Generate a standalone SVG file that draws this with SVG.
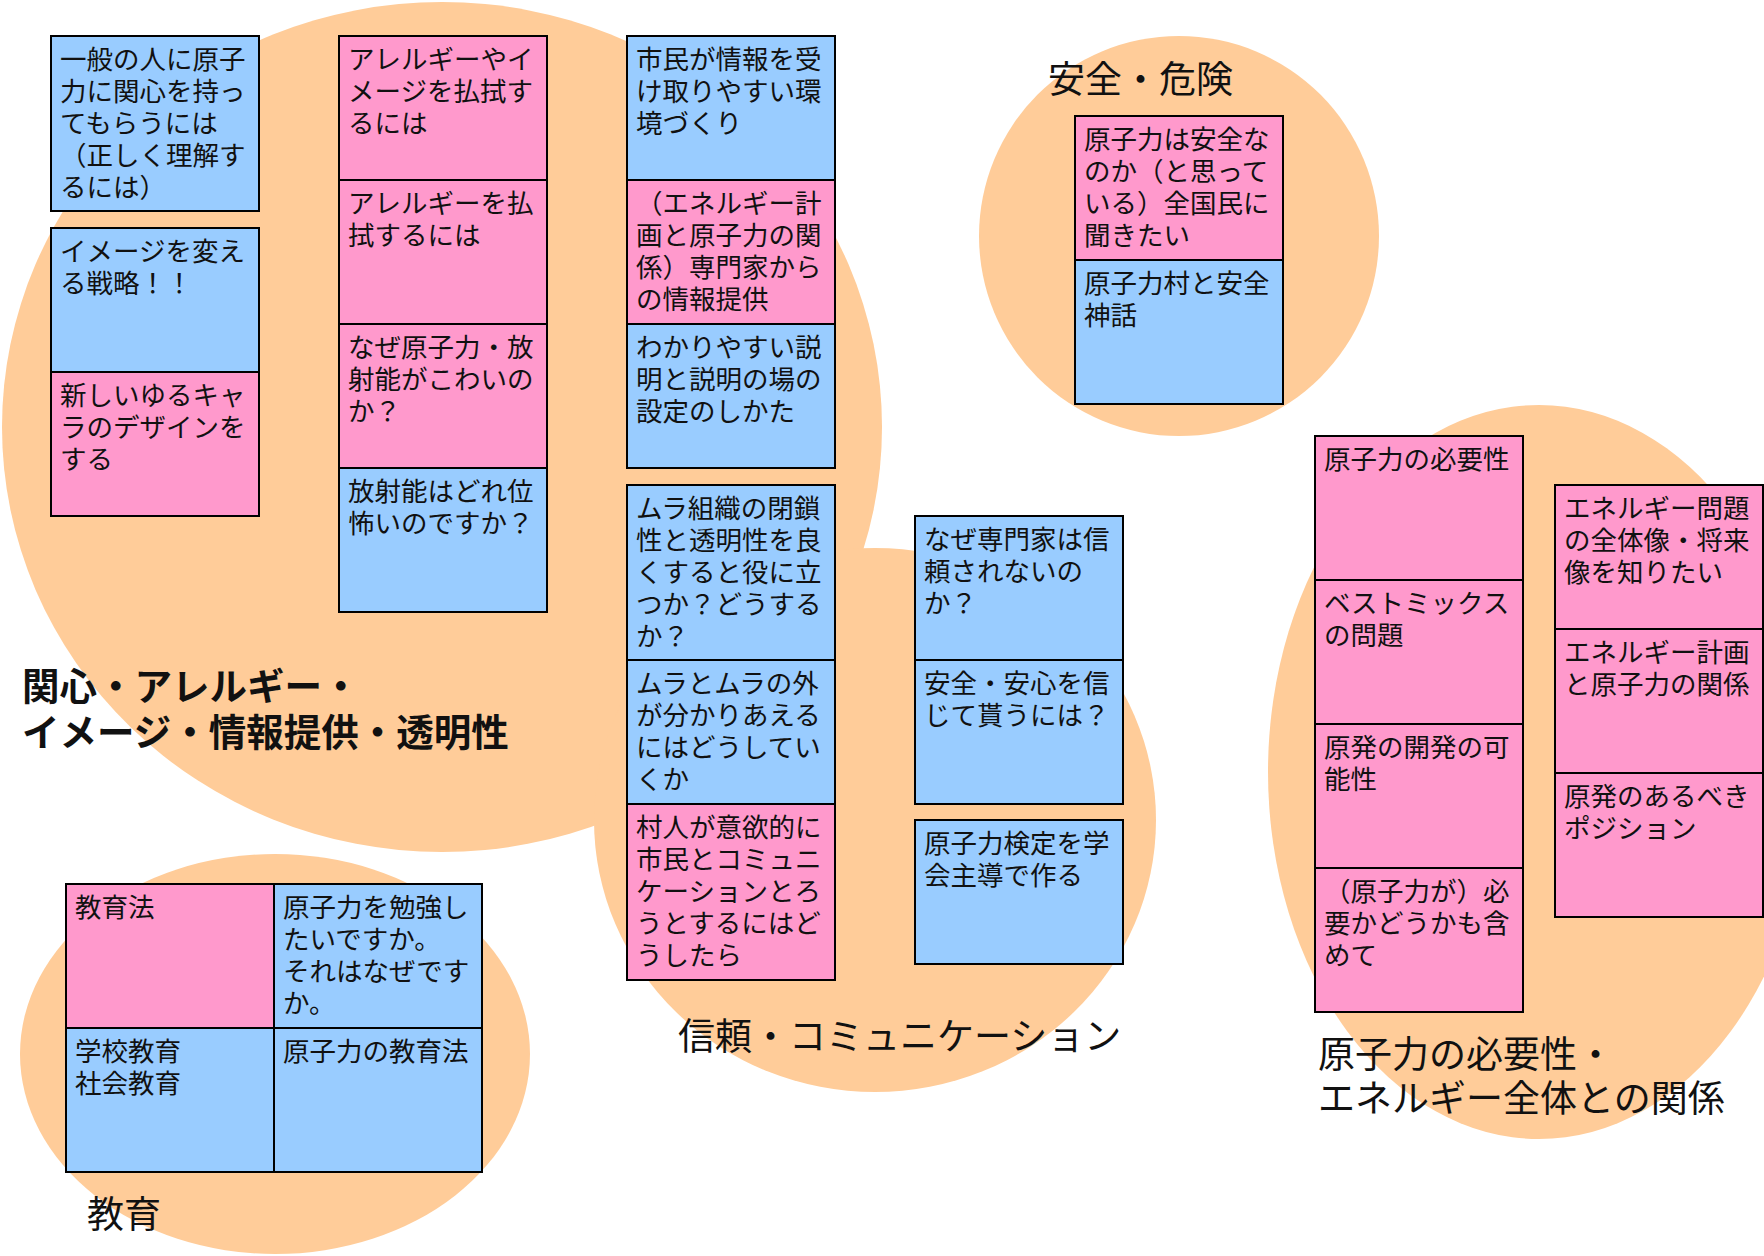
<svg xmlns="http://www.w3.org/2000/svg" width="1764" height="1256" viewBox="0 0 1764 1256">
<style>
.blob{fill:#FFCC99}
.b{fill:#99CCFF;stroke:#000;stroke-width:2}
.p{fill:#FF99CC;stroke:#000;stroke-width:2}
.t{font-family:"Noto Sans CJK JP","Noto Sans",sans-serif;font-size:26.5px;fill:#111}
.h{font-family:"Noto Sans CJK JP","Noto Sans",sans-serif;font-size:37px;fill:#111}
.hb{font-family:"Noto Sans CJK JP","Noto Sans",sans-serif;font-size:37.5px;font-weight:bold;fill:#111}
</style>
<rect width="1764" height="1256" fill="#fff"/>
<g id="blobs">
<ellipse class="blob" cx="442" cy="427" rx="440" ry="425"/>
<ellipse class="blob" cx="875" cy="820" rx="281" ry="272"/>
<circle class="blob" cx="1179" cy="236" r="200"/>
<ellipse class="blob" cx="275" cy="1054" rx="255" ry="200"/>
<ellipse class="blob" cx="1539" cy="772" rx="271" ry="367"/>
</g>
<g id="labels">
<text class="hb" x="22" y="700">関心・アレルギー・</text>
<text class="hb" x="22" y="746">イメージ・情報提供・透明性</text>
<text class="h" x="1048" y="93">安全・危険</text>
<text class="h" x="678" y="1050">信頼・コミュニケーション</text>
<text class="h" x="1318" y="1068">原子力の必要性・</text>
<text class="h" x="1318" y="1112">エネルギー全体との関係</text>
<text class="h" x="87" y="1228">教育</text>
</g>
<g id="connectors"/>
<g id="a1"><rect class="b" x="51" y="36" width="208" height="175"/><text class="t"><tspan x="60" y="69">一般の人に原子</tspan><tspan x="60" y="101">力に関心を持っ</tspan><tspan x="60" y="133">てもらうには</tspan><tspan x="60" y="165">（正しく理解す</tspan><tspan x="60" y="197">るには）</tspan></text></g>
<g id="a2"><rect class="b" x="51" y="228" width="208" height="144"/><text class="t"><tspan x="60" y="261">イメージを変え</tspan><tspan x="60" y="293">る戦略！！</tspan></text></g>
<g id="a3"><rect class="p" x="51" y="372" width="208" height="144"/><text class="t"><tspan x="60" y="405">新しいゆるキャ</tspan><tspan x="60" y="437">ラのデザインを</tspan><tspan x="60" y="469">する</tspan></text></g>
<g id="b1"><rect class="p" x="339" y="36" width="208" height="144"/><text class="t"><tspan x="348" y="69">アレルギーやイ</tspan><tspan x="348" y="101">メージを払拭す</tspan><tspan x="348" y="133">るには</tspan></text></g>
<g id="b2"><rect class="p" x="339" y="180" width="208" height="144"/><text class="t"><tspan x="348" y="213">アレルギーを払</tspan><tspan x="348" y="245">拭するには</tspan></text></g>
<g id="b3"><rect class="p" x="339" y="324" width="208" height="144"/><text class="t"><tspan x="348" y="357">なぜ原子力・放</tspan><tspan x="348" y="389">射能がこわいの</tspan><tspan x="348" y="421">か？</tspan></text></g>
<g id="b4"><rect class="b" x="339" y="468" width="208" height="144"/><text class="t"><tspan x="348" y="501">放射能はどれ位</tspan><tspan x="348" y="533">怖いのですか？</tspan></text></g>
<g id="c1"><rect class="b" x="627" y="36" width="208" height="144"/><text class="t"><tspan x="636" y="69">市民が情報を受</tspan><tspan x="636" y="101">け取りやすい環</tspan><tspan x="636" y="133">境づくり</tspan></text></g>
<g id="c2"><rect class="p" x="627" y="180" width="208" height="144"/><text class="t"><tspan x="636" y="213">（エネルギー計</tspan><tspan x="636" y="245">画と原子力の関</tspan><tspan x="636" y="277">係）専門家から</tspan><tspan x="636" y="309">の情報提供</tspan></text></g>
<g id="c3"><rect class="b" x="627" y="324" width="208" height="144"/><text class="t"><tspan x="636" y="357">わかりやすい説</tspan><tspan x="636" y="389">明と説明の場の</tspan><tspan x="636" y="421">設定のしかた</tspan></text></g>
<g id="c4"><rect class="b" x="627" y="485" width="208" height="175"/><text class="t"><tspan x="636" y="518">ムラ組織の閉鎖</tspan><tspan x="636" y="550">性と透明性を良</tspan><tspan x="636" y="582">くすると役に立</tspan><tspan x="636" y="614">つか？どうする</tspan><tspan x="636" y="646">か？</tspan></text></g>
<g id="c5"><rect class="b" x="627" y="660" width="208" height="144"/><text class="t"><tspan x="636" y="693">ムラとムラの外</tspan><tspan x="636" y="725">が分かりあえる</tspan><tspan x="636" y="757">にはどうしてい</tspan><tspan x="636" y="789">くか</tspan></text></g>
<g id="c6"><rect class="p" x="627" y="804" width="208" height="176"/><text class="t"><tspan x="636" y="837">村人が意欲的に</tspan><tspan x="636" y="869">市民とコミュニ</tspan><tspan x="636" y="901">ケーションとろ</tspan><tspan x="636" y="933">うとするにはど</tspan><tspan x="636" y="965">うしたら</tspan></text></g>
<g id="d1"><rect class="b" x="915" y="516" width="208" height="144"/><text class="t"><tspan x="924" y="549">なぜ専門家は信</tspan><tspan x="924" y="581">頼されないの</tspan><tspan x="924" y="613">か？</tspan></text></g>
<g id="d2"><rect class="b" x="915" y="660" width="208" height="144"/><text class="t"><tspan x="924" y="693">安全・安心を信</tspan><tspan x="924" y="725">じて貰うには？</tspan></text></g>
<g id="d3"><rect class="b" x="915" y="820" width="208" height="144"/><text class="t"><tspan x="924" y="853">原子力検定を学</tspan><tspan x="924" y="885">会主導で作る</tspan></text></g>
<g id="s1"><rect class="p" x="1075" y="116" width="208" height="144"/><text class="t"><tspan x="1084" y="149">原子力は安全な</tspan><tspan x="1084" y="181">のか（と思って</tspan><tspan x="1084" y="213">いる）全国民に</tspan><tspan x="1084" y="245">聞きたい</tspan></text></g>
<g id="s2"><rect class="b" x="1075" y="260" width="208" height="144"/><text class="t"><tspan x="1084" y="293">原子力村と安全</tspan><tspan x="1084" y="325">神話</tspan></text></g>
<g id="e1"><rect class="p" x="1315" y="436" width="208" height="144"/><text class="t"><tspan x="1324" y="469">原子力の必要性</tspan></text></g>
<g id="e2"><rect class="p" x="1315" y="580" width="208" height="144"/><text class="t"><tspan x="1324" y="613">ベストミックス</tspan><tspan x="1324" y="645">の問題</tspan></text></g>
<g id="e3"><rect class="p" x="1315" y="724" width="208" height="144"/><text class="t"><tspan x="1324" y="757">原発の開発の可</tspan><tspan x="1324" y="789">能性</tspan></text></g>
<g id="e4"><rect class="p" x="1315" y="868" width="208" height="144"/><text class="t"><tspan x="1324" y="901">（原子力が）必</tspan><tspan x="1324" y="933">要かどうかも含</tspan><tspan x="1324" y="965">めて</tspan></text></g>
<g id="f1"><rect class="p" x="1555" y="485" width="208" height="144"/><text class="t"><tspan x="1564" y="518">エネルギー問題</tspan><tspan x="1564" y="550">の全体像・将来</tspan><tspan x="1564" y="582">像を知りたい</tspan></text></g>
<g id="f2"><rect class="p" x="1555" y="629" width="208" height="144"/><text class="t"><tspan x="1564" y="662">エネルギー計画</tspan><tspan x="1564" y="694">と原子力の関係</tspan></text></g>
<g id="f3"><rect class="p" x="1555" y="773" width="208" height="144"/><text class="t"><tspan x="1564" y="806">原発のあるべき</tspan><tspan x="1564" y="838">ポジション</tspan></text></g>
<g id="g1"><rect class="p" x="66" y="884" width="208" height="144"/><text class="t"><tspan x="75" y="917">教育法</tspan></text></g>
<g id="g2"><rect class="b" x="274" y="884" width="208" height="144"/><text class="t"><tspan x="283" y="917">原子力を勉強し</tspan><tspan x="283" y="949">たいですか。</tspan><tspan x="283" y="981">それはなぜです</tspan><tspan x="283" y="1013">か。</tspan></text></g>
<g id="g3"><rect class="b" x="66" y="1028" width="208" height="144"/><text class="t"><tspan x="75" y="1061">学校教育</tspan><tspan x="75" y="1093">社会教育</tspan></text></g>
<g id="g4"><rect class="b" x="274" y="1028" width="208" height="144"/><text class="t"><tspan x="283" y="1061">原子力の教育法</tspan></text></g>
</svg>
